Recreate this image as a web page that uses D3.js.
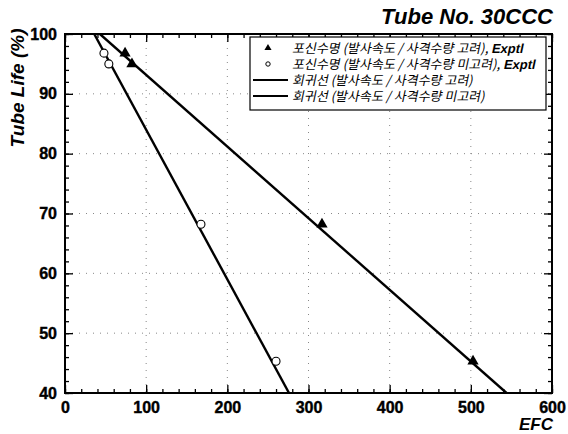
<!DOCTYPE html>
<html><head><meta charset="utf-8">
<script src="https://cdn.jsdelivr.net/npm/d3@7"></script>
<style>body{margin:0;background:#fff}</style>
</head><body>
<script>
const xTicks = [0,100,200,300,400,500,600];
const yTicks = [40,50,60,70,80,90,100];
const triEFC = [74, 82.5, 316.6, 502.7];
const triLife = [96.8, 95, 68.2, 45.3];
const cirEFC = [48, 54, 167.5, 260];
const cirLife = [96.8, 95, 68.2, 45.3];
const fitA = [[43,100],[544,40]];
const fitB = [[36,100],[276,40]];
const legendLabels = [
  ["포신수명 (발사속도 / 사격수량 고려), ","Exptl"],
  ["포신수명 (발사속도 / 사격수량 미고려), ","Exptl"],
  ["회귀선 (발사속도 / 사격수량 고려)",""],
  ["회귀선 (발사속도 / 사격수량 미고려)",""]
];

const W=568,H=434;
const L=65,R=552,T=34,B=393;
const svg=d3.select("body").append("svg").attr("width",W).attr("height",H);
const x=d3.scaleLinear().domain([0,600]).range([L,R]);
const y=d3.scaleLinear().domain([40,100]).range([B,T]);

// grid
const g=svg.append("g").attr("stroke","#888").attr("stroke-width",1).attr("stroke-dasharray","1,6");
xTicks.slice(1,-1).forEach(v=>g.append("line").attr("x1",x(v)).attr("x2",x(v)).attr("y1",T).attr("y2",B));
yTicks.slice(1,-1).forEach(v=>g.append("line").attr("y1",y(v)).attr("y2",y(v)).attr("x1",L).attr("x2",R));

// axes with inward ticks
const xMinor=d3.range(0,601,20), yMinor=d3.range(40,101,2);
function addAxis(axisFn, scale, major, minor, tr, showLabels){
  const a=svg.append("g").attr("transform",tr);
  a.call(axisFn(scale).tickValues(minor).tickSize(-4).tickFormat(""));
  const b=svg.append("g").attr("transform",tr);
  b.call(axisFn(scale).tickValues(major).tickSize(-8).tickPadding(12).tickFormat(showLabels?d3.format("d"):""));
  [a,b].forEach(s=>{s.select(".domain").remove();s.selectAll("line").attr("stroke","#000").attr("stroke-width",1.3);});
  b.selectAll("text").attr("font-family","Liberation Sans, Arial").attr("font-weight","bold").attr("font-size",16).attr("fill","#000")
    .attr("stroke","#000").attr("stroke-width",0.4);
  return b;
}
const bx=addAxis(d3.axisBottom,x,xTicks,xMinor,`translate(0,${B})`,true);
bx.selectAll("text").attr("dy","0.5em");
const ly=addAxis(d3.axisLeft,y,yTicks,yMinor,`translate(${L},0)`,true);
ly.selectAll("text").attr("dx","4");
addAxis(d3.axisTop,x,xTicks,xMinor,`translate(0,${T})`,false);
addAxis(d3.axisRight,y,yTicks,yMinor,`translate(${R},0)`,false);
svg.append("rect").attr("x",L).attr("y",T).attr("width",R-L).attr("height",B-T)
  .attr("fill","none").attr("stroke","#000").attr("stroke-width",2);

// clip
svg.append("clipPath").attr("id","c").append("rect").attr("x",L).attr("y",T).attr("width",R-L).attr("height",B-T);
const line=d3.line().x(d=>x(d[0])).y(d=>y(d[1]));
[fitA,fitB].forEach(f=>svg.append("path").attr("d",line(f)).attr("clip-path","url(#c)")
  .attr("stroke","#000").attr("stroke-width",2.4).attr("fill","none"));

const tri=d3.symbol().type(d3.symbolTriangle).size(55);
triEFC.forEach((v,i)=>svg.append("path").attr("d",tri()).attr("transform",`translate(${x(v)},${y(triLife[i])})`).attr("fill","#000"));
cirEFC.forEach((v,i)=>svg.append("circle").attr("cx",x(v)).attr("cy",y(cirLife[i])).attr("r",4)
  .attr("fill","#fff").attr("stroke","#000").attr("stroke-width",1.1));

// legend
const lg=svg.append("g");
lg.append("rect").attr("x",250).attr("y",37).attr("width",296).attr("height",73).attr("fill","#fff").attr("stroke","#000").attr("stroke-width",1.2);
const rowsY=[48,64,80,96];
lg.append("path").attr("d",d3.symbol().type(d3.symbolTriangle).size(22)()).attr("transform",`translate(268,${rowsY[0]})`).attr("fill","#000");
lg.append("circle").attr("cx",268).attr("cy",rowsY[1]).attr("r",2.2).attr("fill","#fff").attr("stroke","#000");
[2,3].forEach(i=>lg.append("line").attr("x1",253).attr("x2",288).attr("y1",rowsY[i]).attr("y2",rowsY[i]).attr("stroke","#000").attr("stroke-width",2));
legendLabels.forEach((t,i)=>{
  const tx=lg.append("text").attr("transform",`translate(292,${rowsY[i]+4.5}) skewX(-12)`).attr("font-size",13)
    .attr("font-family","Noto Sans CJK KR, sans-serif").attr("fill","#000");
  tx.append("tspan").text(t[0]);
  if(t[1]) tx.append("tspan").attr("font-family","Liberation Sans, Arial").attr("font-weight","bold").text(t[1]);
});

// titles
svg.append("text").attr("x",553).attr("y",24).attr("text-anchor","end").attr("font-family","Liberation Sans, Arial")
  .attr("font-weight","bold").attr("font-style","italic").attr("font-size",22).text("Tube No. 30CCC");
svg.append("text").attr("x",553).attr("y",430).attr("text-anchor","end").attr("font-family","Liberation Sans, Arial")
  .attr("font-weight","bold").attr("font-style","italic").attr("font-size",17).text("EFC");
svg.append("text").attr("transform","translate(24,88) rotate(-90)").attr("text-anchor","middle").attr("font-family","Liberation Sans, Arial")
  .attr("font-weight","bold").attr("font-style","italic").attr("font-size",19).text("Tube Life (%)");
</script>
</body></html>
